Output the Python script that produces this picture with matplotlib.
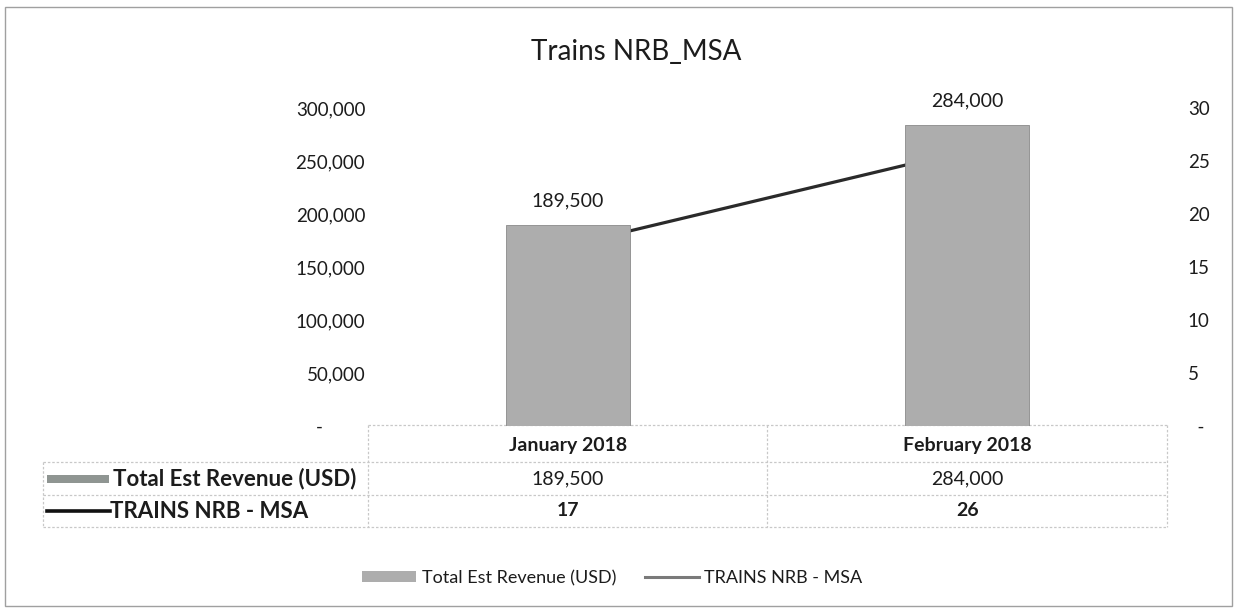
import matplotlib
matplotlib.use("Agg")
import matplotlib.pyplot as plt
from matplotlib.lines import Line2D
from matplotlib.patches import Rectangle
from matplotlib.ticker import FuncFormatter, MultipleLocator
from matplotlib.transforms import blended_transform_factory

plt.rcParams['font.family'] = ['Lato', 'DejaVu Sans']

# data
months = ["January 2018", "February 2018"]
revenue = [189500, 284000]
trains = [17, 26]
bar_label = "Total Est Revenue (USD)"
line_label = "TRAINS NRB - MSA"
title = "Trains NRB_MSA"

BAR_COLOR = "#adadad"
LINE_COLOR = "#2a2a2a"
GRID_COLOR = "#c8c8c8"
TXT = "#1c1c1c"


def fmt_left(v, pos=None):
    # excel accounting style: zero shown as a dash, padded
    return "-         " if abs(v) < 1e-9 else f"{v:,.0f}"


def fmt_right(v, pos=None):
    return "  -" if abs(v) < 1e-9 else f"{v:,.0f}"


fig = plt.figure(figsize=(12.37, 6.13), dpi=100)
ax = fig.add_axes([0.2975, 0.305, 0.6459, 0.519])
ax2 = ax.twinx()

x = list(range(len(months)))
bars = ax.bar(x, revenue, width=0.31, color=BAR_COLOR, edgecolor="#8a8a8a", linewidth=0.6)
ax2.plot(x, trains, color=LINE_COLOR, linewidth=2.3, solid_capstyle="round")

# bars sit above the line, like the original
ax.set_zorder(2)
ax2.set_zorder(1)
ax.patch.set_visible(False)

ax.set_xlim(-0.5, len(months) - 0.5)
ax.set_ylim(0, 300000)
ax2.set_ylim(0, 30)
ax.yaxis.set_major_locator(MultipleLocator(50000))
ax2.yaxis.set_major_locator(MultipleLocator(5))
ax.yaxis.set_major_formatter(FuncFormatter(fmt_left))
ax2.yaxis.set_major_formatter(FuncFormatter(fmt_right))
ax.set_xticks([])
for a in (ax, ax2):
    for s in a.spines.values():
        s.set_visible(False)
    a.tick_params(axis="y", length=0, labelsize=13.5, colors=TXT)
ax.tick_params(axis="y", pad=2)
ax2.tick_params(axis="y", pad=15)

for rect, v in zip(bars, revenue):
    ax.annotate(f"{v:,.0f}", (rect.get_x() + rect.get_width() / 2, v),
                xytext=(0, 11), textcoords="offset points", ha="center", va="bottom",
                fontsize=14, color=TXT)

fig.text(0.514, 0.915, title, ha="center", va="center", fontsize=20, color=TXT)

# data table below the plot
H = 613.0
def fy(px):
    return 1 - px / H

tr = blended_transform_factory(ax.transData, fig.transFigure)
tbl_left = 43 / 1237
col_left = ax.get_position().x0
col_right = ax.get_position().x1
row_lines = [fy(425), fy(462), fy(495), fy(527)]
row_text = [fy(445), fy(479), fy(511)]

def hline(x0, x1, y):
    fig.add_artist(Line2D([x0, x1], [y, y], transform=fig.transFigure,
                          color=GRID_COLOR, lw=0.9, linestyle=(0, (2, 1.5))))

def vline(xf, y0, y1):
    fig.add_artist(Line2D([xf, xf], [y0, y1], transform=fig.transFigure,
                          color=GRID_COLOR, lw=0.9, linestyle=(0, (2, 1.5))))

hline(col_left, col_right, row_lines[0])
for y in row_lines[1:]:
    hline(tbl_left, col_right, y)
vline(tbl_left, row_lines[1], row_lines[3])
mid = (col_left + col_right) / 2
for xf in (col_left, mid, col_right):
    vline(xf, row_lines[0], row_lines[3])

for i, m in enumerate(months):
    fig.text(i, row_text[0], m, transform=tr, ha="center", va="center",
             fontsize=14, fontweight="bold", color=TXT)
    fig.text(i, row_text[1], f"{revenue[i]:,.0f}", transform=tr, ha="center",
             va="center", fontsize=14, color=TXT)
    fig.text(i, row_text[2], f"{trains[i]}", transform=tr, ha="center",
             va="center", fontsize=14, fontweight="bold", color=TXT)

# row keys
fig.add_artist(Rectangle((47 / 1237, row_text[1] - 0.007), 62 / 1237, 0.014,
                         transform=fig.transFigure, facecolor="#8f9592", edgecolor="none"))
fig.text(113 / 1237, row_text[1], bar_label, ha="left", va="center",
         fontsize=16, fontweight="bold", color=TXT)
fig.add_artist(Line2D([47 / 1237, 110 / 1237], [row_text[2], row_text[2]],
                      transform=fig.transFigure, color="#111111", lw=2.6))
fig.text(110 / 1237, row_text[2], line_label, ha="left", va="center",
         fontsize=16, fontweight="bold", color=TXT)

# legend
handles = [Rectangle((0, 0), 1, 1, facecolor=BAR_COLOR, edgecolor="none"),
           Line2D([], [], color="#7a7a7a", lw=2.2)]
fig.legend(handles, [bar_label, line_label], loc="center", bbox_to_anchor=(0.495, fy(578)),
           ncol=2, frameon=False, fontsize=13, handlelength=3.0, handleheight=0.6,
           columnspacing=1.6, handletextpad=0.3, labelcolor=TXT)

# outer frame
fig.add_artist(Rectangle((0.004, 0.012), 0.992, 0.976, transform=fig.transFigure,
                         fill=False, edgecolor="#a0a0a0", lw=1.0))

fig.savefig("out.png", dpi=100)
